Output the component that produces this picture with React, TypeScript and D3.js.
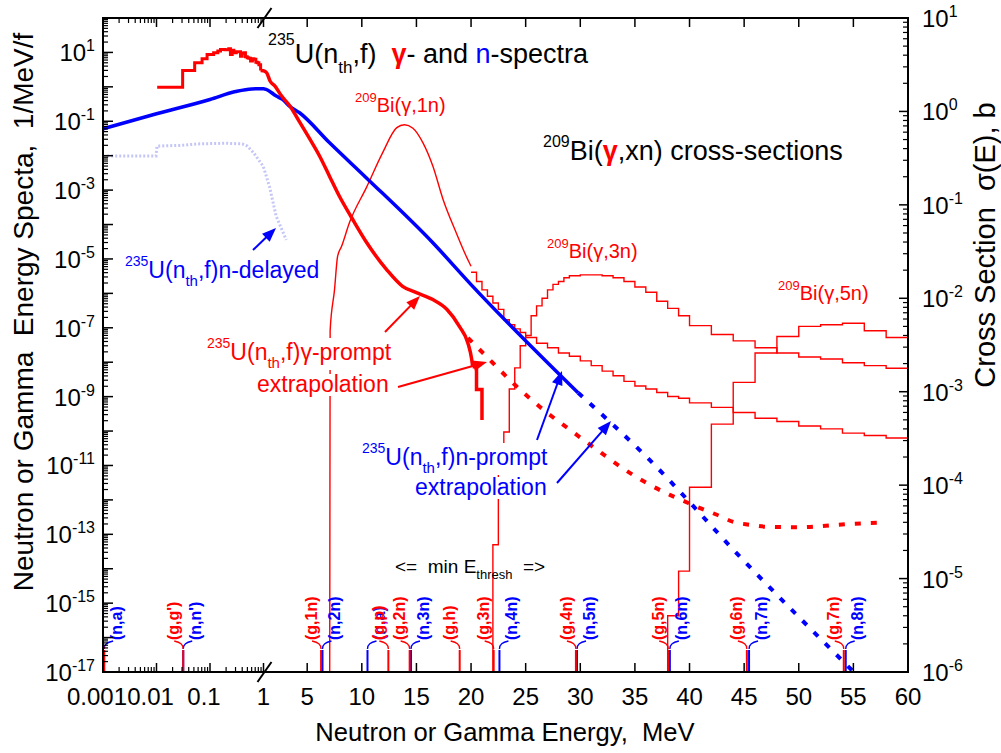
import React, { useEffect, useRef } from "react";
import * as d3 from "d3";

type P = [number, number];

// ---------------- DATA ----------------
// 235U(nth,f) prompt gamma spectrum, low-energy histogram part (E MeV, 1/MeV/f)
const gammaHistE = [0.0103, 0.0308, 0.0517, 0.0711, 0.0882, 0.117, 0.14, 0.157, 0.19, 0.224, 0.241, 0.26, 0.279, 0.31, 0.372, 0.4, 0.429, 0.46, 0.497, 0.53, 0.573, 0.62, 0.661, 0.72, 0.766, 0.82, 0.883];
const gammaHistV = [0.98, 3.0, 5.0, 6.6, 8.7, 9.8, 11.0, 12.2, 12.0, 12.8, 8.7, 11.5, 9.8, 10.5, 7.8, 9.5, 9.8, 7.5, 7.0, 6.8, 5.6, 6.5, 6.3, 5.2, 5.0, 4.4, 3.0];
// prompt gamma, continuous part
const gammaE = [0.883, 1.0, 1.29, 1.6, 2.05, 2.66, 3.43, 4.34, 5.5, 6.13, 7.05, 7.96, 9.06, 10.44, 12.27, 13.73, 15.0, 16.5, 17.8, 18.96, 19.7, 20.06, 20.15];
const gammaV = [3.0, 2.95, 2.57, 1.48, 1.05, 0.54, 0.275, 0.091, 0.022, 9.8e-3, 2.5e-3, 6.5e-4, 1.6e-4, 3.0e-5, 4.9e-6, 1.6e-6, 1.05e-6, 6.6e-7, 3.4e-7, 1.07e-7, 3.7e-8, 1.2e-8, 7.4e-9];
// prompt gamma, last histogram bins
const gammaTailE = [20.15, 20.5, 21.0];
const gammaTailV = [7.4e-9, 1.6e-9, 2.1e-10];
// prompt gamma extrapolation
const gammaExtrE = [19.72, 22, 24.15, 26.6, 29.03, 31.5, 34.06, 36.65, 38.2, 39.6, 40.9, 42.5, 44, 45.5, 47.1, 50, 54.7, 57.9];
const gammaExtrV = [5.1e-8, 9.5e-9, 2.0e-9, 4.2e-10, 1.1e-10, 2.9e-11, 7.6e-12, 2.45e-12, 1.4e-12, 8.9e-13, 5.9e-13, 3.7e-13, 2.3e-13, 1.9e-13, 1.66e-13, 1.6e-13, 2.0e-13, 2.2e-13];

// 235U(nth,f) prompt neutron spectrum
const neutronE = [0.001, 0.01, 0.1, 0.3, 0.6, 1.0, 1.25, 2.17, 2.74, 3.38, 4.3, 7.05, 10.4, 16.5, 20.0, 29.8];
const neutronV = [0.0605, 0.165, 0.43, 0.73, 0.87, 0.88, 0.84, 0.54, 0.43, 0.275, 0.177, 0.0237, 2.3e-3, 2.95e-5, 1.8e-6, 1.29e-9];
// prompt neutron extrapolation
const neutronExtrE = [29.8, 36.05, 44.9, 54.9];
const neutronExtrV = [1.29e-9, 1.8e-11, 1.8e-14, 1.1e-17];
// delayed neutrons
const delayedE = [0.0012, 0.0098, 0.0102, 0.03, 0.06, 0.2, 0.4, 0.497, 0.65, 0.99, 1.55, 2.16, 3.08];
const delayedV = [9.8e-3, 9.8e-3, 0.019, 0.020, 0.022, 0.023, 0.022, 0.019, 0.0123, 4.9e-3, 1.26e-3, 1.74e-4, 3.6e-5];

// 209Bi(g,1n) cross-section (b): smooth part then histogram tail
const bi1nE = [7.05, 7.1, 7.5, 7.78, 8.15, 8.88, 10.44, 11.9, 13.2, 13.9, 14.68, 15.6, 16.5, 17.43, 18.65, 19.57, 20.0];
const bi1nV = [1e-7, 4.5e-3, 0.0123, 0.028, 0.036, 0.065, 0.155, 0.36, 0.67, 0.72, 0.66, 0.46, 0.26, 0.115, 0.050, 0.028, 0.022];
const bi1nTailE = [20.0, 20.5, 21.0, 21.5, 22.0, 22.5, 23.0, 23.5, 24.0, 24.5, 25, 26, 27, 28, 29, 30, 31, 32, 33, 34, 35, 36, 37, 38, 39, 40, 42, 44, 46, 48, 50, 52, 54, 56, 58];
const bi1nTailV = [0.019, 0.0151, 0.0123, 0.0105, 8.9e-3, 7.6e-3, 5.9e-3, 5.2e-3, 4.7e-3, 4.3e-3, 3.8e-3, 3.3e-3, 2.95e-3, 2.6e-3, 2.4e-3, 2.14e-3, 1.9e-3, 1.66e-3, 1.48e-3, 1.29e-3, 1.15e-3, 1.07e-3, 9.8e-4, 8.9e-4, 8.5e-4, 7.6e-4, 6.8e-4, 6.0e-4, 5.2e-4, 4.8e-4, 4.3e-4, 4.0e-4, 3.6e-4, 3.4e-4, 3.2e-4];
// 209Bi(g,3n)
const bi3nE = [22.0, 22.5, 23.0, 23.5, 24.0, 24.5, 25.0, 25.5, 26.0, 26.5, 27.0, 27.5, 28.0, 28.5, 29, 30, 31, 32, 33, 34, 35, 36, 37, 38, 39, 40, 42, 44, 46, 48, 50, 52, 54, 56, 58];
const bi3nV = [2.3e-5, 1.5e-4, 3.7e-4, 1.07e-3, 1.8e-3, 3.1e-3, 4.0e-3, 6.5e-3, 8.3e-3, 0.0100, 0.0123, 0.0141, 0.0151, 0.0166, 0.0174, 0.0178, 0.0178, 0.0174, 0.0166, 0.0151, 0.0132, 0.0116, 9.3e-3, 7.8e-3, 6.5e-3, 5.1e-3, 4.1e-3, 3.5e-3, 2.95e-3, 2.6e-3, 2.35e-3, 2.24e-3, 2.04e-3, 1.9e-3, 1.78e-3];
// 209Bi(g,5n)
const bi5nE = [38, 39, 40, 42, 44, 46, 48, 50, 52, 54, 56, 58];
const bi5nV = [4.0e-6, 1.2e-5, 9.5e-5, 4.5e-4, 1.26e-3, 2.6e-3, 3.9e-3, 5.0e-3, 5.2e-3, 5.4e-3, 4.5e-3, 3.8e-3];

// reaction threshold markers
const gammaMarkE = [0.00105, 0.0316, 6.27, 12.43, 14.38, 18.96, 22.07, 29.6, 38.05, 45.25, 54.12];
const gammaMarkLabel = ["(g,n)", "(g,g')", "(g,1n)", "(g,p)", "(g,2n)", "(g,h)", "(g,3n)", "(g,4n)", "(g,5n)", "(g,6n)", "(g,7n)"];
const neutronMarkE = [0.00105, 0.0316, 6.4, 10.52, 14.5, 22.6, 29.7, 38.2, 45.45, 54.3];
const neutronMarkLabel = ["(n,a)", "(n,n')", "(n,2n)", "(n,a)", "(n,3n)", "(n,4n)", "(n,5n)", "(n,6n)", "(n,7n)", "(n,8n)"];

// axis ticks
const xLogTicks = [0.001, 0.01, 0.1, 1];
const xLinTicks = [5, 10, 15, 20, 25, 30, 35, 40, 45, 50, 55, 60];
const xTickLabels = ["0.001", "0.01", "0.1", "1", "5", "10", "15", "20", "25", "30", "35", "40", "45", "50", "55", "60"];
const leftLabelExp = [1, -1, -3, -5, -7, -9, -11, -13, -15, -17];
const rightLabelExp = [1, 0, -1, -2, -3, -4, -5, -6];

// ---------------- LAYOUT ----------------
const W = 1001, H = 753;
const L = 103, R = 908, T = 18, B = 672;
const XB = 263.5;
const FONT = "'Liberation Sans', Arial, Helvetica, sans-serif";
const RED = "#ff0000", BLUE = "#0000ff";

const xLog = d3.scaleLog().domain([0.001, 1]).range([L, XB]);
const xLin = d3.scaleLinear().domain([1, 60]).range([XB, R]);
const X = (e: number) => (e <= 1 ? xLog(e) : xLin(e));
const yL = d3.scaleLog().domain([1e-17, 1e2]).range([B, T]);
const yR = d3.scaleLog().domain([1e-6, 1e1]).range([B, T]);

const zip = (a: number[], b: number[]): P[] => a.map((v, i) => [v, b[i]]);
const lineL = (pts: P[], curve: any = d3.curveLinear) =>
  d3.line<P>().x((d) => X(d[0])).y((d) => yL(d[1])).curve(curve)(pts) || "";
const lineR = (pts: P[], curve: any = d3.curveLinear) =>
  d3.line<P>().x((d) => X(d[0])).y((d) => yR(d[1])).curve(curve)(pts) || "";
const stepPts = (E: number[], V: number[], end: number, below?: number): P[] => {
  const p = zip(E, V);
  p.push([end, V[V.length - 1]]);
  if (below !== undefined) p.unshift([E[0], below]);
  return p;
};

function Arrow({ x1, y1, x2, y2, color, w = 2 }: any) {
  const dx = x2 - x1, dy = y2 - y1;
  const len = Math.hypot(dx, dy);
  const ux = dx / len, uy = dy / len;
  const hl = 14, hw = 5.5;
  const bx = x2 - ux * hl, by = y2 - uy * hl;
  const pts = `${x2},${y2} ${bx - uy * hw},${by + ux * hw} ${bx + uy * hw},${by - ux * hw}`;
  return (
    <g>
      <line x1={x1} y1={y1} x2={bx + ux * 2} y2={by + uy * 2} stroke={color} strokeWidth={w} />
      <polygon points={pts} fill={color} />
    </g>
  );
}

function Exp10({ x, y, e, anchor }: any) {
  return (
    <text x={x} y={y} fontSize={24} textAnchor={anchor} fontFamily={FONT}>
      10<tspan fontSize={16} dy={-10}>{String(e)}</tspan>
    </text>
  );
}

// "235U(n_th,f)..." label
function ULabel({ x, y, rest, color, cls }: any) {
  return (
    <text className={cls} x={x} y={y} fontSize={23} fill={color}>
      <tspan fontSize={14} dy={-12}>235</tspan>
      <tspan dy={12}>U(n</tspan>
      <tspan fontSize={15} dy={8}>th</tspan>
      <tspan dy={-8}>{rest}</tspan>
    </text>
  );
}

function BiLabel({ x, y, r }: any) {
  return (
    <text x={x} y={y} fontSize={20} fill={RED}>
      <tspan fontSize={13} dy={-10}>209</tspan>
      <tspan dy={10}>{`Bi(γ,${r})`}</tspan>
    </text>
  );
}

export default function App() {
  const ref = useRef<SVGSVGElement>(null);
  useEffect(() => {
    const svg = d3.select(ref.current);
    svg.selectAll("rect.bgrect").remove();
    svg.selectAll<SVGTextElement, unknown>("text.bg").each(function () {
      const b = this.getBBox();
      const node = this;
      d3.select(this.parentNode as any)
        .insert("rect", () => node)
        .attr("class", "bgrect")
        .attr("x", b.x - 1)
        .attr("y", b.y + 3)
        .attr("width", b.width + 2)
        .attr("height", b.height - 4)
        .attr("fill", "white");
    });
  }, []);

  const leftMajor: number[] = [];
  const leftMinor: number[] = [];
  for (let e = -17; e <= 1; e++) {
    leftMajor.push(Math.pow(10, e));
    for (let m = 2; m <= 9; m++) leftMinor.push(m * Math.pow(10, e));
  }
  const rightMajor: number[] = [];
  const rightMinor: number[] = [];
  for (let e = -6; e <= 0; e++) {
    rightMajor.push(Math.pow(10, e));
    for (let m = 2; m <= 9; m++) rightMinor.push(m * Math.pow(10, e));
  }
  const xMinor: number[] = [];
  for (let e = -3; e <= -1; e++) for (let m = 2; m <= 9; m++) xMinor.push(m * Math.pow(10, e));
  const xMajor = [...xLogTicks, ...xLinTicks];

  const thin = 1.4;

  return (
    <svg ref={ref} width={W} height={H} style={{ position: "absolute", left: 0, top: 0, background: "white" }} fontFamily={FONT}>
      <defs>
        <clipPath id="plot">
          <rect x={L} y={T} width={R - L} height={B - T} />
        </clipPath>
      </defs>
      <rect x={0} y={0} width={W} height={H} fill="white" />

      <g clipPath="url(#plot)">
        {/* cross sections (right axis) */}
        <path d={lineR(zip(bi1nE, bi1nV), d3.curveMonotoneX)} fill="none" stroke={RED} strokeWidth={thin} />
        <path d={lineR(stepPts(bi1nTailE, bi1nTailV, 60), d3.curveStepAfter)} fill="none" stroke={RED} strokeWidth={thin} />
        <path d={lineR(stepPts(bi3nE, bi3nV, 60, 1e-7), d3.curveStepAfter)} fill="none" stroke={RED} strokeWidth={thin} />
        <path d={lineR(stepPts(bi5nE, bi5nV, 60, 1e-7), d3.curveStepAfter)} fill="none" stroke={RED} strokeWidth={thin} />

        {/* delayed neutrons */}
        <path d={lineL(zip(delayedE, delayedV))} fill="none" stroke="#c4c6f6" strokeWidth={3} strokeDasharray="2 2" />

        {/* extrapolations */}
        <path d={lineL(zip(gammaExtrE, gammaExtrV), d3.curveMonotoneX)} fill="none" stroke={RED} strokeWidth={4} strokeDasharray="6 10" />
        <path d={lineL(zip(neutronExtrE, neutronExtrV), d3.curveMonotoneX)} fill="none" stroke={BLUE} strokeWidth={4} strokeDasharray="6 10" />

        {/* prompt spectra */}
        <path d={lineL(zip(neutronE, neutronV), d3.curveMonotoneX)} fill="none" stroke={BLUE} strokeWidth={3.5} />
        <path d={lineL(zip(gammaHistE, gammaHistV), d3.curveStepAfter)} fill="none" stroke={RED} strokeWidth={3} />
        <path d={lineL(zip(gammaE, gammaV), d3.curveMonotoneX)} fill="none" stroke={RED} strokeWidth={3.5} />
        <path d={lineL(zip(gammaTailE, gammaTailV), d3.curveStepAfter)} fill="none" stroke={RED} strokeWidth={3.5} />

        {/* threshold markers */}
        {neutronMarkE.map((e, i) => {
          const x = X(e);
          return (
            <g key={"n" + i}>
              <line x1={x} x2={x} y1={650} y2={B} stroke={BLUE} strokeWidth={2} />
              <path d={`M${x},649 C${x},644 ${x + 3},642.5 ${x + 9},641`} fill="none" stroke={BLUE} strokeWidth={1.4} />
              <text transform={`translate(${x + 12},640) rotate(-90)`} dy="0.35em" fontSize={16} fontWeight="bold" fill={BLUE}>
                {neutronMarkLabel[i]}
              </text>
            </g>
          );
        })}
        {gammaMarkE.map((e, i) => {
          const x = X(e);
          return (
            <g key={"g" + i}>
              <line x1={x} x2={x} y1={650} y2={B} stroke={RED} strokeWidth={2} />
              <path d={`M${x},649 C${x},644 ${x - 3},642.5 ${x - 9},641`} fill="none" stroke={RED} strokeWidth={1.4} />
              <text transform={`translate(${x - 10},640) rotate(-90)`} dy="0.35em" fontSize={16} fontWeight="bold" fill={RED}>
                {gammaMarkLabel[i]}
              </text>
            </g>
          );
        })}
      </g>

      {/* frame */}
      <rect x={L} y={T} width={R - L} height={B - T} fill="none" stroke="black" strokeWidth={2} />

      {/* left ticks */}
      {leftMajor.map((v, i) => (
        <line key={"lm" + i} x1={L} x2={L + 10} y1={yL(v)} y2={yL(v)} stroke="black" strokeWidth={1.5} />
      ))}
      {leftMinor.map((v, i) => (
        <line key={"ln" + i} x1={L} x2={L + 5} y1={yL(v)} y2={yL(v)} stroke="black" strokeWidth={1.2} />
      ))}
      {leftLabelExp.map((e) => (
        <Exp10 key={"ll" + e} x={95} y={yL(Math.pow(10, e)) + 9} e={e} anchor="end" />
      ))}

      {/* right ticks */}
      {rightMajor.map((v, i) => (
        <line key={"rm" + i} x1={R - 9} x2={R} y1={yR(v)} y2={yR(v)} stroke="black" strokeWidth={1.5} />
      ))}
      {rightMinor.map((v, i) => (
        <line key={"rn" + i} x1={R - 5} x2={R} y1={yR(v)} y2={yR(v)} stroke="black" strokeWidth={1.2} />
      ))}
      {rightLabelExp.map((e) => (
        <Exp10 key={"rl" + e} x={922} y={yR(Math.pow(10, e)) + 9} e={e} anchor="start" />
      ))}

      {/* x ticks top and bottom */}
      {xMajor.map((v, i) => (
        <g key={"xm" + i}>
          <line x1={X(v)} x2={X(v)} y1={B} y2={B - 9} stroke="black" strokeWidth={1.5} />
          <line x1={X(v)} x2={X(v)} y1={T} y2={T + 9} stroke="black" strokeWidth={1.5} />
        </g>
      ))}
      {xMinor.map((v, i) => (
        <g key={"xn" + i}>
          <line x1={X(v)} x2={X(v)} y1={B} y2={B - 5} stroke="black" strokeWidth={1.2} />
          <line x1={X(v)} x2={X(v)} y1={T} y2={T + 5} stroke="black" strokeWidth={1.2} />
        </g>
      ))}
      {xMajor.map((v, i) => (
        <text key={"xl" + i} x={X(v) + (v < 1 ? -6 : 0)} y={705} fontSize={24} textAnchor="middle">
          {xTickLabels[i]}
        </text>
      ))}
      {/* axis break marks */}
      <line x1={XB - 6} y1={B + 10} x2={XB + 8} y2={B - 10} stroke="black" strokeWidth={2} />
      <line x1={XB - 6} y1={T + 10} x2={XB + 8} y2={T - 10} stroke="black" strokeWidth={2} />

      {/* axis titles */}
      <text x={505} y={741} fontSize={25.6} textAnchor="middle" style={{ whiteSpace: "pre" }}>
        Neutron or Gamma Energy,  MeV
      </text>
      <text transform="translate(33,312) rotate(-90)" fontSize={28} textAnchor="middle" style={{ whiteSpace: "pre" }}>
        Neutron or Gamma  Energy Specta,  1/MeV/f
      </text>
      <text transform="translate(995,245) rotate(-90)" fontSize={29} textAnchor="middle" style={{ whiteSpace: "pre" }}>
        Cross Section  σ(E), b
      </text>

      {/* annotations */}
      <text x={268} y={63} fontSize={27} style={{ whiteSpace: "pre" }}>
        <tspan fontSize={16} dy={-18}>235</tspan>
        <tspan dy={18}>U(n</tspan>
        <tspan fontSize={17} dy={10}>th</tspan>
        <tspan dy={-10}>,f)  </tspan>
        <tspan fill={RED} fontWeight="bold">γ</tspan>
        <tspan>- and </tspan>
        <tspan fill={BLUE}>n</tspan>
        <tspan>-spectra</tspan>
      </text>

      <BiLabel x={355} y={112} r="1n" />
      <BiLabel x={547} y={258} r="3n" />
      <BiLabel x={778} y={300} r="5n" />
      <text x={543} y={160} fontSize={27} fill="black">
        <tspan fontSize={16} dy={-13}>209</tspan>
        <tspan dy={13}>Bi(</tspan>
        <tspan fill={RED} fontWeight="bold">γ</tspan>
        <tspan>,xn) cross-sections</tspan>
      </text>

      <ULabel x={125} y={278} rest=",f)n-delayed" color={BLUE} />

      <g>
        <ULabel cls="bg" x={207} y={360} rest=",f)γ-prompt" color={RED} />
        <text className="bg" x={257} y={392} fontSize={23} fill={RED}>extrapolation</text>
        <ULabel cls="bg" x={362} y={465} rest=",f)n-prompt" color={BLUE} />
        <text className="bg" x={415} y={495} fontSize={23} fill={BLUE}>extrapolation</text>
      </g>

      <text x={395} y={573} fontSize={19} style={{ whiteSpace: "pre" }}>
        <tspan>{"<=  min E"}</tspan>
        <tspan fontSize={13} dy={6}>thresh</tspan>
        <tspan dy={-6}>{"  =>"}</tspan>
      </text>

      <Arrow x1={253} y1={250} x2={276} y2={228} color={BLUE} />
      <Arrow x1={385} y1={332} x2={420} y2={296} color={RED} />
      <Arrow x1={398} y1={387} x2={487} y2={362} color={RED} />
      <Arrow x1={537} y1={440} x2={562} y2={371} color={BLUE} />
      <Arrow x1={557} y1={483} x2={611} y2={421} color={BLUE} />
    </svg>
  );
}
